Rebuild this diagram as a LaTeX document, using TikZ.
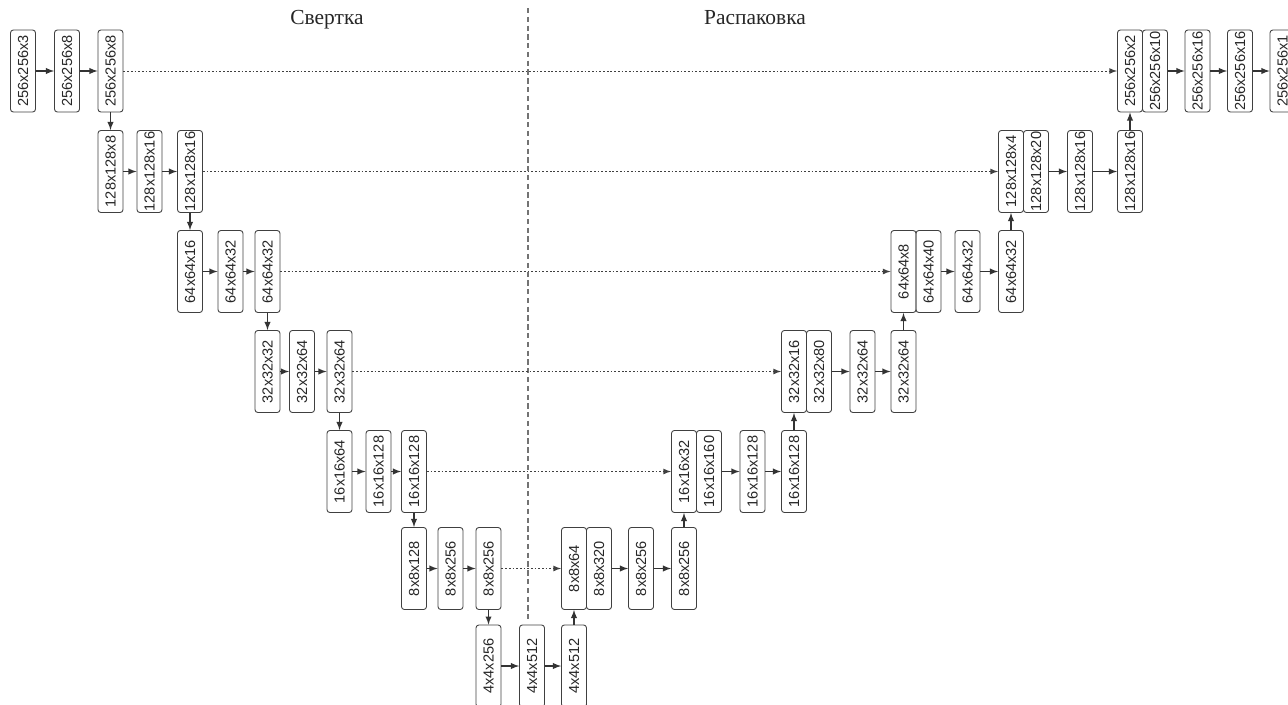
\documentclass[tikz,border=0pt]{standalone}
\usepackage{fontspec}
\setmainfont{Liberation Serif}
\setsansfont{Liberation Sans}
\usepackage{graphicx}

\newcommand{\rl}[1]{\rotatebox{90}{\sffamily\fontsize{8.3}{9}\selectfont #1}}

\begin{document}
\begin{tikzpicture}[x=0.02cm,y=-0.02cm,
	lay/.style={draw=black!75,rounded corners=1.6pt,minimum width=0.5cm,minimum height=1.64cm,inner sep=0pt,line width=0.5pt,text=black!85},
	title/.style={font=\fontsize{12.2}{14}\selectfont,anchor=base,text=black!85}]
	\useasboundingbox (0,0) rectangle (1288,704);
	% divider
	\draw[black!55,line width=0.6pt,dash pattern=on 3pt off 2pt] (528,8) -- (528,620);
	\node[title] (conv) at (327,24) {Свертка};
	\node[title] (dec) at (755,24) {Распаковка};
	% encoder
	\foreach \name/\x/\y/\txt in {
		l11/23/71/256x256x3, l12/67/71/256x256x8, l13/110.5/71/256x256x8,
		l21/110.5/171.5/128x128x8, l22/149.5/171.5/128x128x16, l23/190/171.5/128x128x16,
		l31/190/271.5/64x64x16, l32/230.5/271.5/64x64x32, l33/267.5/271.5/64x64x32,
		l41/267.5/371.5/32x32x32, l42/302/371.5/32x32x64, l43/339.5/371.5/32x32x64,
		l51/339.5/471.5/16x16x64, l52/378.5/471.5/16x16x128, l53/414/471.5/16x16x128,
		l61/414/568.5/8x8x128, l62/450.5/568.5/8x8x256, l63/488.5/568.5/8x8x256,
		l71/488.5/666/4x4x256, l72/532/666/4x4x512, l73/574/666/4x4x512}
	\node[lay] (\name) at (\x,\y) {\rl{\txt}};
	% decoder
	\foreach \name/\x/\y/\txt in {
		r6a/574/568.5/8x8x64, r6b/599/568.5/8x8x320, r6c/641/568.5/8x8x256, r6d/684/568.5/8x8x256,
		r5a/684/471.5/16x16x32, r5b/709/471.5/16x16x160, r5c/752.5/471.5/16x16x128, r5d/794/471.5/16x16x128,
		r4a/794/371.5/32x32x16, r4b/819/371.5/32x32x80, r4c/862.5/371.5/32x32x64, r4d/903.5/371.5/32x32x64,
		r3a/903.5/271.5/64x64x8, r3b/928.5/271.5/64x64x40, r3c/967.5/271.5/64x64x32, r3d/1011/271.5/64x64x32,
		r2a/1011/171.5/128x128x4, r2b/1036/171.5/128x128x20, r2c/1080/171.5/128x128x16, r2d/1130/171.5/128x128x16,
		r1a/1130/71/256x256x2, r1b/1155/71/256x256x10, r1c/1197.5/71/256x256x16, r1d/1240/71/256x256x16, r1e/1282.5/71/256x256x1}
	\node[lay] (\name) at (\x,\y) {\rl{\txt}};
	% arrows
	\foreach \from/\to in {l11/l12,l12/l13,l13/l21,l21/l22,l22/l23,l23/l31,l31/l32,l32/l33,l33/l41,
		l41/l42,l42/l43,l43/l51,l51/l52,l52/l53,l53/l61,l61/l62,l62/l63,l63/l71,l71/l72,l72/l73,
		l73/r6a,r6b/r6c,r6c/r6d,r6d/r5a,r5b/r5c,r5c/r5d,r5d/r4a,r4b/r4c,r4c/r4d,r4d/r3a,
		r3b/r3c,r3c/r3d,r3d/r2a,r2b/r2c,r2c/r2d,r2d/r1a,r1b/r1c,r1c/r1d,r1d/r1e}
	\draw[->,>=latex,black!80,line width=0.6pt] (\from) -- (\to);
	% skip connections
	\foreach \from/\to in {l13/r1a,l23/r2a,l33/r3a,l43/r4a,l53/r5a,l63/r6a}
	\draw[->,>=latex,black!75,line width=0.55pt,dash pattern=on 1pt off 1.1pt] (\from) -- (\to);
\end{tikzpicture}
\end{document}
